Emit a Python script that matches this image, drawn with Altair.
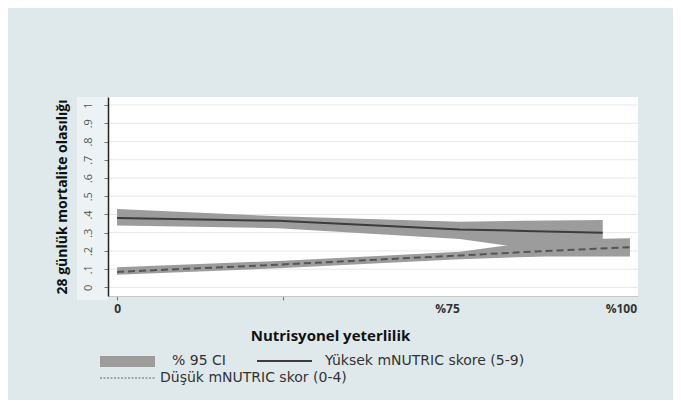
import altair as alt
import pandas as pd

# ---- data (x in axis units: 0 at "0" label, 100 at "%100" label) ----
high_x = [0, 32, 68, 81, 96.4]
high_line = [0.38, 0.365, 0.318, 0.31, 0.30]
high_lower = [0.34, 0.325, 0.265, 0.215, 0.21]
high_upper = [0.43, 0.39, 0.36, 0.365, 0.37]

low_x = [0, 32, 68, 85, 101.8]
low_line = [0.085, 0.125, 0.175, 0.20, 0.22]
low_lower = [0.07, 0.105, 0.155, 0.17, 0.17]
low_upper = [0.11, 0.145, 0.195, 0.26, 0.27]

x_ticks = [0, 33, 65.5, 100]
y_ticks = [0, 0.1, 0.2, 0.3, 0.4, 0.5, 0.6, 0.7, 0.8, 0.9, 1.0]

legend_ci = "% 95 CI"
legend_high = "Yüksek mNUTRIC skore (5-9)"
legend_low = "Düşük mNUTRIC skor (0-4)"
x_title = "Nutrisyonel yeterlilik"
y_title = "28 günlük mortalite olasılığı"

high = pd.DataFrame({"x": high_x, "y": high_line, "lo": high_lower, "hi": high_upper})
low = pd.DataFrame({"x": low_x, "y": low_line, "lo": low_lower, "hi": low_upper})
grid_df = pd.DataFrame({"v": y_ticks})
one = pd.DataFrame({"d": [0]})

W, H = 530, 199
FONT = "Open Sans"
LFONT = "DejaVu Sans"
BAND = "#9c9c9c"

xscale = alt.Scale(domain=[-1.8, 103.4], nice=False, zero=False)
yscale = alt.Scale(domain=[-0.047, 1.044], nice=False, zero=False)

x_axis = alt.Axis(
    values=x_ticks,
    labelExpr="datum.value == 0 ? '0' : datum.value == 100 ? '%100' : datum.value > 60 ? '%75' : ''",
    grid=False,
    zindex=1,
    domainColor="#c4c8c8",
    tickColor={"condition": {"test": "datum.value > 50", "value": "transparent"}, "value": "#777"},
    tickSize=4,
    labelPadding=3,
    labelFont=FONT,
    labelFontSize=12,
    labelFontWeight="bold",
    labelColor="#333",
    title=x_title,
    titleFont=FONT,
    titleFontSize=15,
    titleFontWeight="bold",
    titleColor="#111",
    titleX=222,
    titleY=39,
    titleAlign="center",
    titleBaseline="middle",
)

y_axis = alt.Axis(
    values=y_ticks,
    labelExpr="datum.value == 0 ? '0' : datum.value == 1 ? '1' : replace(format(datum.value, '.1f'), '0.', '.')",
    grid=False,
    zindex=1,
    domainColor="#222",
    domainWidth=1.5,
    tickColor="#777",
    tickSize=4,
    labelPadding=11,
    labelAngle=270,
    labelAlign="center",
    labelBaseline="bottom",
    labelFont=FONT,
    labelFontSize=11,
    labelColor="#555",
    title=y_title,
    titleFont=FONT,
    titleFontSize=14,
    titleFontWeight="bold",
    titleColor="#111",
    titleAngle=270,
    titleX=-46,
    titleY=99.5,
    titleAlign="center",
    titleBaseline="middle",
)

X = alt.X("x:Q", scale=xscale, axis=x_axis)

# lighter panel behind y-axis labels
panel = alt.Chart(one).mark_rect(color="#edf3f4").encode(
    x=alt.value(-31), x2=alt.value(0), y=alt.value(0), y2=alt.value(H + 4)
)

# horizontal grid lines
grid = alt.Chart(grid_df).mark_rule(color="#e4e9e9", strokeWidth=1).encode(
    y=alt.Y("v:Q", scale=yscale, axis=y_axis), x=alt.value(0), x2=alt.value(W)
)

base_high = alt.Chart(high)
base_low = alt.Chart(low)

band_low = base_low.mark_area(color=BAND, opacity=1).encode(
    x=X, y=alt.Y("lo:Q", scale=yscale, axis=y_axis), y2="hi:Q"
)
band_high = base_high.mark_area(color=BAND, opacity=1).encode(
    x=X, y=alt.Y("lo:Q", scale=yscale, axis=y_axis), y2="hi:Q"
)
line_high = base_high.mark_line(color="#3c3c3c", strokeWidth=2).encode(
    x=X, y=alt.Y("y:Q", scale=yscale, axis=y_axis)
)
line_low = base_low.mark_line(color="#555", strokeWidth=2, strokeDash=[7, 4]).encode(
    x=X, y=alt.Y("y:Q", scale=yscale, axis=y_axis)
)

# custom legend below the plot
ROW1, ROW2 = 264, 281
leg_rect = alt.Chart(one).mark_rect(color=BAND).encode(
    x=alt.value(-8), x2=alt.value(47), y=alt.value(ROW1 - 5), y2=alt.value(ROW1 + 6)
)
leg_ci = alt.Chart(one).mark_text(
    text=legend_ci, align="left", baseline="middle", font=LFONT, fontSize=14, color="#333"
).encode(x=alt.value(64), y=alt.value(ROW1))
leg_solid = alt.Chart(one).mark_rule(color="#3c3c3c", strokeWidth=2).encode(
    x=alt.value(149), x2=alt.value(204), y=alt.value(ROW1)
)
leg_high = alt.Chart(one).mark_text(
    text=legend_high, align="left", baseline="middle", font=LFONT, fontSize=14, color="#333"
).encode(x=alt.value(217), y=alt.value(ROW1))
leg_dash = alt.Chart(one).mark_rule(color="#666", strokeWidth=1.2, strokeDash=[2, 1.5]).encode(
    x=alt.value(-8), x2=alt.value(47), y=alt.value(ROW2)
)
leg_low = alt.Chart(one).mark_text(
    text=legend_low, align="left", baseline="middle", font=LFONT, fontSize=14, color="#333"
).encode(x=alt.value(52), y=alt.value(ROW2))

chart = alt.layer(
    panel, grid, band_low, band_high, line_high, line_low,
    leg_rect, leg_ci, leg_solid, leg_high, leg_dash, leg_low,
).properties(
    width=W,
    height=H,
    autosize=alt.AutoSizeParams(type="none"),
    padding={"left": 100, "top": 89, "right": 35, "bottom": 104},
    background="#dfe9eb",
).configure_view(
    fill="white", stroke=None
)

chart.save("out.html", embed_options={"renderer": "svg", "actions": False})
